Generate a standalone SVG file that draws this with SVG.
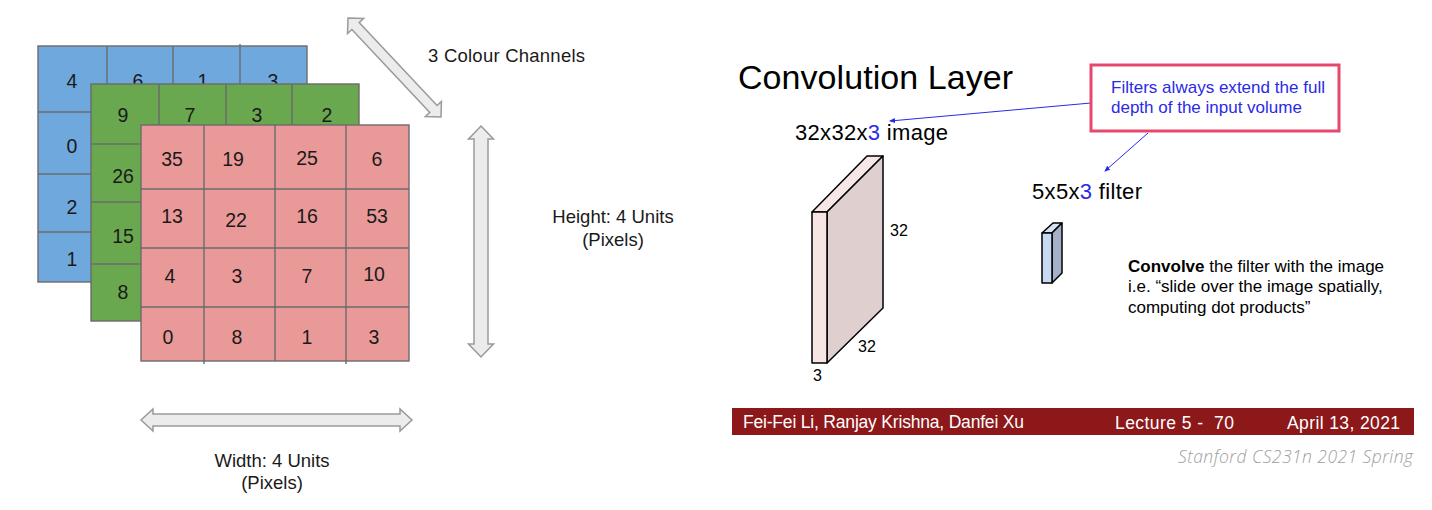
<svg xmlns="http://www.w3.org/2000/svg" width="1432" height="510" viewBox="0 0 1432 510">
<style>
.g{stroke:#6b6b6b;stroke-width:1.4}
.gl{stroke:#6b6b6b;stroke-width:1.4;fill:none}
.n{font-family:"Liberation Sans",Arial,sans-serif;font-size:19.5px;fill:#1a1a1a;text-anchor:middle}
.lbl{font-family:"Liberation Sans",Arial,sans-serif;font-size:18.5px;fill:#1a1a1a}
.dbl{fill:#ececec;stroke:#9a9a9a;stroke-width:1.5;stroke-linejoin:miter}
.sl{font-family:"Liberation Sans",Arial,sans-serif;fill:#000}
.box{stroke:#000;stroke-width:1.5;stroke-linejoin:round}
.ft{font-family:"Liberation Sans",Arial,sans-serif;font-size:17.5px;fill:#fff}
.ann{stroke:#2a2ae8;stroke-width:1;fill:none}
</style>
<defs>
<marker id="ah" markerWidth="6" markerHeight="6" refX="5" refY="3" orient="auto" markerUnits="userSpaceOnUse">
<path d="M0,0.5 L6,3 L0,5.5 z" fill="#2a2ae8"/>
</marker>
</defs>
<rect width="1432" height="510" fill="#fff"/>

<g id="blue-channel">
<rect x="38" y="46" width="269" height="236" fill="#6fa8dc" class="g"/>
<path class="gl" d="M107,46V282M173,46V282M240,44V282M38,112H307M38,174H307M38,232H307"/>
<text class="n" x="72" y="88">4</text><text class="n" x="138" y="88">6</text><text class="n" x="203" y="88">1</text><text class="n" x="273" y="88">3</text>
<text class="n" x="72" y="153">0</text><text class="n" x="72" y="214">2</text><text class="n" x="72" y="266">1</text>
</g>

<g id="green-channel">
<rect x="91" y="84" width="268" height="237" fill="#6aa84f" class="g"/>
<path class="gl" d="M159,84V321M226,84V321M292,84V321M91,144H359M91,202H359M91,264H359"/>
<text class="n" x="123" y="122">9</text><text class="n" x="190" y="122">7</text><text class="n" x="257" y="122">3</text><text class="n" x="327" y="122">2</text>
<text class="n" x="123" y="183">26</text><text class="n" x="123" y="243">15</text><text class="n" x="123" y="299">8</text>
</g>

<g id="red-channel">
<rect x="141" y="125" width="268" height="236" fill="#ea9999" class="g"/>
<path class="gl" d="M204,125V364M275,125V361M346,125V364M141,189H409M141,248H409M141,307H409"/>
<text class="n" x="172" y="166">35</text><text class="n" x="233" y="166">19</text><text class="n" x="307" y="165">25</text><text class="n" x="377" y="166">6</text>
<text class="n" x="172" y="223">13</text><text class="n" x="236" y="227">22</text><text class="n" x="307" y="223">16</text><text class="n" x="377" y="223">53</text>
<text class="n" x="170" y="283">4</text><text class="n" x="237" y="283">3</text><text class="n" x="307" y="283">7</text><text class="n" x="374" y="281">10</text>
<text class="n" x="168" y="344">0</text><text class="n" x="237" y="344">8</text><text class="n" x="307" y="344">1</text><text class="n" x="374" y="344">3</text>
</g>

<g id="labels-left">
<text class="lbl" x="428" y="62" textLength="157">3 Colour Channels</text>
<text class="lbl" x="613" y="223" text-anchor="middle">Height: 4 Units</text>
<text class="lbl" x="613" y="246" text-anchor="middle">(Pixels)</text>
<text class="lbl" x="272" y="467" text-anchor="middle">Width: 4 Units</text>
<text class="lbl" x="272" y="489" text-anchor="middle">(Pixels)</text>
</g>

<g id="connectors">
<polygon class="dbl" transform="translate(348,18) rotate(46.8)" points="0,0 11,-11 11,-5 124.8,-5 124.8,-11 135.8,0 124.8,11 124.8,5 11,5 11,11"/>
<polygon class="dbl" transform="translate(481,126) rotate(90)" points="0,0 13,-12.5 13,-7 218,-7 218,-12.5 231,0 218,12.5 218,7 13,7 13,12.5"/>
<polygon class="dbl" transform="translate(141,420)" points="0,0 12,-11 12,-6 259,-6 259,-11 271,0 259,11 259,6 12,6 12,11"/>
<line class="ann" x1="1091" y1="103" x2="890" y2="121" marker-end="url(#ah)"/>
<line class="ann" x1="1148" y1="133" x2="1105" y2="171" marker-end="url(#ah)"/>
</g>

<g id="title">
<text class="sl" x="738" y="89" font-size="34" textLength="275">Convolution Layer</text>
</g>

<g id="note-box">
<rect x="1091" y="65" width="248" height="66" fill="#fff" stroke="#e5486c" stroke-width="3"/>
<text class="sl" x="1111" y="93" font-size="17" style="fill:#2a2ae8" textLength="214">Filters always extend the full</text>
<text class="sl" x="1111" y="113" font-size="17" style="fill:#2a2ae8">depth of the input volume</text>
</g>

<g id="image-volume">
<text class="sl" x="795" y="140" font-size="22" textLength="153">32x32x<tspan style="fill:#2a2ae8">3</tspan> image</text>
<polygon class="box" fill="#f7e6e6" points="812,212 867,156 883,156 827,212"/>
<polygon class="box" fill="#dfcfcf" points="827,212 883,156 883,308 827,363"/>
<rect class="box" x="812" y="212" width="15" height="151" fill="#f9e4e4"/>
<text class="sl" x="890" y="236" font-size="16">32</text>
<text class="sl" x="858" y="352" font-size="16">32</text>
<text class="sl" x="813" y="381" font-size="16">3</text>
</g>

<g id="filter-volume">
<text class="sl" x="1032" y="199" font-size="22" textLength="110">5x5x<tspan style="fill:#2a2ae8">3</tspan> filter</text>
<polygon class="box" fill="#d7e2f5" points="1042,233 1053,223 1062,223 1052,233"/>
<polygon class="box" fill="#a4b0c8" points="1052,233 1062,223 1062,273 1052,283"/>
<rect class="box" x="1042" y="233" width="10" height="50" fill="#c9d9f3"/>
</g>

<g id="convolve-text">
<text class="sl" x="1128" y="272" font-size="17"><tspan font-weight="bold">Convolve</tspan> the filter with the image</text>
<text class="sl" x="1128" y="292" font-size="17">i.e. “slide over the image spatially,</text>
<text class="sl" x="1128" y="313" font-size="17">computing dot products”</text>
</g>

<g id="footer">
<rect x="732" y="408" width="682" height="27" fill="#8c181a"/>
<text class="ft" x="743" y="428" textLength="281">Fei-Fei Li, Ranjay Krishna, Danfei Xu</text>
<text class="ft" x="1115" y="429" textLength="119" xml:space="preserve">Lecture 5 -  70</text>
<text class="ft" x="1287" y="429" textLength="113">April 13, 2021</text>
<text x="1178" y="463" font-family="'Open Sans',sans-serif" font-style="italic" font-weight="300" font-size="17.5" fill="#a0a0a0" textLength="235">Stanford CS231n 2021 Spring</text>
</g>
</svg>
